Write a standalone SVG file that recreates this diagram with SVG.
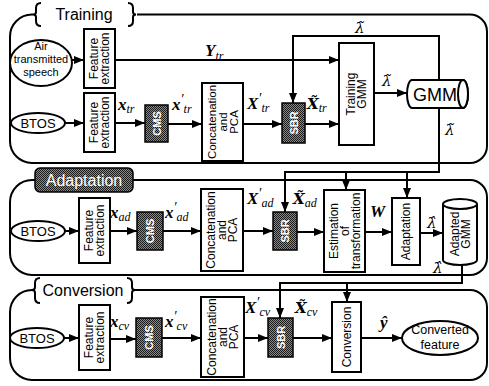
<svg xmlns="http://www.w3.org/2000/svg" width="489" height="386" viewBox="0 0 489 386">
<defs>
<pattern id="ht" width="2" height="2" patternUnits="userSpaceOnUse">
<rect width="2" height="2" fill="#8a8a8a"/>
<rect width="1" height="1" fill="#1a1a1a"/>
<rect x="1" y="1" width="1" height="1" fill="#1a1a1a"/>
</pattern>
<marker id="ah" markerUnits="userSpaceOnUse" markerWidth="10" markerHeight="8" refX="10" refY="4" orient="auto">
<path d="M0,0 L10,4 L0,8 Z" fill="#000"/>
</marker>
<style>
.box{fill:#fff;stroke:#000;stroke-width:2}
.dk{fill:url(#ht);stroke:#000;stroke-width:1.5}
.ar{fill:none;stroke:#000;stroke-width:2;marker-end:url(#ah)}
.pn{fill:none;stroke:#000;stroke-width:2}
.t{font-family:"Liberation Sans",Arial,sans-serif;font-size:12px;text-anchor:middle;fill:#000}
.w{font-family:"Liberation Sans",Arial,sans-serif;font-size:11px;text-anchor:middle;fill:#fff;font-weight:bold}
.h{font-family:"Liberation Sans",Arial,sans-serif;font-size:16px;text-anchor:middle}
.m{font-family:"Liberation Serif","Times New Roman",serif;font-weight:bold;font-style:italic;font-size:17px;fill:#000}
.d{font-family:"DejaVu Serif",serif;font-weight:bold;font-style:italic;font-size:15px;fill:#000}
.s{font-family:"Liberation Serif","Times New Roman",serif;font-weight:normal;font-size:12px}
.p{font-weight:normal;font-size:14px}
.g{font-family:"DejaVu Serif",serif;font-style:italic;font-size:15px;fill:#000}
</style>
</defs>

<g id="panel-training">
<path class="pn" d="M137,14.5 H470 A17,17 0 0 1 487,31.5 V146 A17,17 0 0 1 470,163 H32 A22,22 0 0 1 10,141 V36.5 A22,22 0 0 1 32,14.5 H33"/>
<path class="pn" d="M41,3 Q36,3 36,8 V12 Q36,14.5 33,14.5 Q36,14.5 36,17 V21 Q36,26 41,26"/>
<path class="pn" d="M128,3 Q133,3 133,8 V12 Q133,14.5 136,14.5 Q133,14.5 133,17 V21 Q133,26 128,26"/>
<text class="h" x="84" y="20">Training</text>
</g>
<g id="panel-adaptation">
<path class="pn" d="M133,180 H470 A17,17 0 0 1 487,197 V258 A17,17 0 0 1 470,275 H32 A22,22 0 0 1 10,253 V202 A22,22 0 0 1 32,180 H35"/>
<rect class="dk" x="35" y="168" width="98" height="24" rx="5"/>
<text class="h" x="84" y="186" style="fill:#fff">Adaptation</text>
</g>
<g id="panel-conversion">
<path class="pn" d="M135,290 H470 A17,17 0 0 1 487,307 V363 A17,17 0 0 1 470,380 H32 A22,22 0 0 1 10,358 V312 A22,22 0 0 1 32,290 H32"/>
<path class="pn" d="M40,278 Q35,278 35,283 V287 Q35,290 32,290 Q35,290 35,293 V298 Q35,303 40,303"/>
<path class="pn" d="M127,278 Q132,278 132,283 V287 Q132,290 135,290 Q132,290 132,293 V298 Q132,303 127,303"/>
<text class="h" x="83" y="296">Conversion</text>
</g>

<g id="connectors">
<line class="ar" x1="72" y1="60" x2="84" y2="60"/>
<line class="ar" x1="115" y1="60" x2="339" y2="60"/>
<line class="ar" x1="65" y1="123" x2="84" y2="123"/>
<line class="ar" x1="115" y1="123" x2="145" y2="123"/>
<line class="ar" x1="168" y1="124" x2="202" y2="124"/>
<line class="ar" x1="243" y1="124" x2="282" y2="124"/>
<line class="ar" x1="305" y1="124" x2="339" y2="124"/>
<line class="ar" x1="374" y1="93" x2="407" y2="93"/>
<path class="ar" d="M439,82 V36 H293 V103"/>
<path class="ar" d="M439,106 V172 H285 V212"/>
<line class="ar" x1="346" y1="172" x2="346" y2="190"/>
<line class="ar" x1="407" y1="172" x2="407" y2="198"/>
<line class="ar" x1="65" y1="231" x2="79" y2="231"/>
<line class="ar" x1="110" y1="231" x2="137" y2="231"/>
<line class="ar" x1="163" y1="231" x2="201" y2="231"/>
<line class="ar" x1="243" y1="231" x2="273" y2="231"/>
<line class="ar" x1="297" y1="232" x2="324" y2="232"/>
<line class="ar" x1="365" y1="232" x2="392" y2="232"/>
<line class="ar" x1="420" y1="233" x2="443" y2="233"/>
<path class="ar" d="M462,265 V283 H280 V318"/>
<line class="ar" x1="347" y1="283" x2="347" y2="302"/>
<line class="ar" x1="64" y1="338" x2="79" y2="338"/>
<line class="ar" x1="110" y1="339" x2="136" y2="339"/>
<line class="ar" x1="162" y1="338" x2="201" y2="338"/>
<line class="ar" x1="244" y1="338" x2="268" y2="338"/>
<line class="ar" x1="293" y1="338" x2="332" y2="338"/>
<line class="ar" x1="361" y1="338" x2="402" y2="338"/>
</g>

<g id="labels">
<text class="m" x="205" y="56">Y<tspan class="s" dy="4">tr</tspan></text>
<text class="m" x="118" y="110">x<tspan class="s" dy="3">tr</tspan></text>
<text class="m" x="172" y="110">x<tspan class="p" dy="-6">′</tspan><tspan class="s" dy="9">tr</tspan></text>
<text class="m" x="247" y="109">X<tspan class="p" dy="-6">′</tspan><tspan class="s" dy="9">tr</tspan></text>
<text class="d" x="307" y="109">X̃<tspan class="s" dy="3">tr</tspan></text>
<text class="g" x="355" y="33">λ̃</text>
<text class="g" x="382" y="86">λ̃</text>
<text class="g" x="445" y="135">λ̃</text>
<text class="m" x="110" y="218">x<tspan class="s" dy="3">ad</tspan></text>
<text class="m" x="165" y="218">x<tspan class="p" dy="-6">′</tspan><tspan class="s" dy="9">ad</tspan></text>
<text class="m" x="247" y="204">X<tspan class="p" dy="-6">′</tspan><tspan class="s" dy="9">ad</tspan></text>
<text class="d" x="293" y="204">X̃<tspan class="s" dy="3">ad</tspan></text>
<text class="m" x="370" y="217">W</text>
<text class="g" x="427" y="228">λ̂</text>
<text class="g" x="433" y="273">λ̂</text>
<text class="m" x="110" y="327">x<tspan class="s" dy="3">cv</tspan></text>
<text class="m" x="165" y="327">x<tspan class="p" dy="-6">′</tspan><tspan class="s" dy="9">cv</tspan></text>
<text class="m" x="245" y="313">X<tspan class="p" dy="-6">′</tspan><tspan class="s" dy="9">cv</tspan></text>
<text class="d" x="295" y="313">X̃<tspan class="s" dy="3">cv</tspan></text>
<text class="m" x="380" y="328">ŷ</text>
</g>

<g id="air-speech">
<ellipse class="box" cx="41" cy="63" rx="31" ry="23"/>
<text class="t" x="41" y="50" style="font-size:11px">Air</text>
<text class="t" x="41" y="63" style="font-size:11px">transmitted</text>
<text class="t" x="41" y="76" style="font-size:11px">speech</text>
</g>
<g id="fe-air">
<rect class="box" x="84" y="29" width="31" height="59"/>
<text class="t" transform="translate(99.5,58.5) rotate(-90)"><tspan x="0" y="-1.5">Feature</tspan><tspan x="0" y="9.5">extraction</tspan></text>
</g>
<g id="btos-tr">
<ellipse class="box" cx="38" cy="123" rx="27" ry="10"/>
<text class="t" x="38" y="128" style="font-size:13px">BTOS</text>
</g>
<g id="fe-tr">
<rect class="box" x="84" y="93" width="31" height="59"/>
<text class="t" transform="translate(99.5,122.5) rotate(-90)"><tspan x="0" y="-1.5">Feature</tspan><tspan x="0" y="9.5">extraction</tspan></text>
</g>
<g id="cms-tr">
<rect class="dk" x="145" y="105" width="23" height="37"/>
<text class="w" transform="translate(156.5,123.5) rotate(-90)" y="4">CMS</text>
</g>
<g id="pca-tr">
<rect class="box" x="202" y="83" width="41" height="78"/>
<text class="t" transform="translate(222.5,122) rotate(-90)" style="font-size:11.5px"><tspan x="0" y="-7">Concatenation</tspan><tspan x="0" y="4">and</tspan><tspan x="0" y="15">PCA</tspan></text>
</g>
<g id="sbr-tr">
<rect class="dk" x="282" y="103" width="23" height="40"/>
<text class="w" transform="translate(293.5,123) rotate(-90)" y="4">SBR</text>
</g>
<g id="training-gmm">
<rect class="box" x="339" y="43" width="35" height="102"/>
<text class="t" transform="translate(356.5,94) rotate(-90)"><tspan x="0" y="-1.5">Training</tspan><tspan x="0" y="9.5">GMM</tspan></text>
</g>
<g id="gmm">
<path class="box" d="M412,80 H463 A5,14 0 0 1 463,108 H412 A5,14 0 0 1 412,80 Z"/>
<ellipse class="box" cx="463" cy="94" rx="5" ry="14"/>
<text class="t" x="435" y="100.5" style="font-size:18px">GMM</text>
</g>

<g id="btos-ad">
<ellipse class="box" cx="38" cy="231" rx="27" ry="10"/>
<text class="t" x="38" y="236" style="font-size:13px">BTOS</text>
</g>
<g id="fe-ad">
<rect class="box" x="79" y="198" width="31" height="65"/>
<text class="t" transform="translate(94.5,230.5) rotate(-90)"><tspan x="0" y="-1.5">Feature</tspan><tspan x="0" y="9.5">extraction</tspan></text>
</g>
<g id="cms-ad">
<rect class="dk" x="137" y="212" width="26" height="38"/>
<text class="w" transform="translate(150,231) rotate(-90)" y="4">CMS</text>
</g>
<g id="pca-ad">
<rect class="box" x="201" y="189" width="42" height="82"/>
<text class="t" transform="translate(222,230) rotate(-90)"><tspan x="0" y="-7">Concatenation</tspan><tspan x="0" y="4">and</tspan><tspan x="0" y="15">PCA</tspan></text>
</g>
<g id="sbr-ad">
<rect class="dk" x="273" y="212" width="24" height="38"/>
<text class="w" transform="translate(285,231) rotate(-90)" y="4">SBR</text>
</g>
<g id="estimation">
<rect class="box" x="324" y="190" width="41" height="82"/>
<text class="t" transform="translate(344.5,231) rotate(-90)"><tspan x="0" y="-7">Estimation</tspan><tspan x="0" y="4">of</tspan><tspan x="0" y="15">transformation</tspan></text>
</g>
<g id="adaptation">
<rect class="box" x="392" y="198" width="28" height="67"/>
<text class="t" transform="translate(406,231.5) rotate(-90)" y="4">Adaptation</text>
</g>
<g id="adapted-gmm">
<path class="box" d="M443,204 V260 A17,5 0 0 0 477,260 V204"/>
<ellipse class="box" cx="460" cy="204" rx="17" ry="5"/>
<text class="t" transform="translate(460,234) rotate(-90)"><tspan x="0" y="-1.5">Adapted</tspan><tspan x="0" y="9.5">GMM</tspan></text>
</g>

<g id="btos-cv">
<ellipse class="box" cx="37" cy="338" rx="27" ry="10"/>
<text class="t" x="37" y="343" style="font-size:13px">BTOS</text>
</g>
<g id="fe-cv">
<rect class="box" x="79" y="305" width="31" height="65"/>
<text class="t" transform="translate(94.5,337.5) rotate(-90)"><tspan x="0" y="-1.5">Feature</tspan><tspan x="0" y="9.5">extraction</tspan></text>
</g>
<g id="cms-cv">
<rect class="dk" x="136" y="318" width="26" height="39"/>
<text class="w" transform="translate(149,337.5) rotate(-90)" y="4">CMS</text>
</g>
<g id="pca-cv">
<rect class="box" x="201" y="297" width="43" height="80"/>
<text class="t" transform="translate(222.5,337) rotate(-90)"><tspan x="0" y="-7">Concatenation</tspan><tspan x="0" y="4">and</tspan><tspan x="0" y="15">PCA</tspan></text>
</g>
<g id="sbr-cv">
<rect class="dk" x="268" y="318" width="25" height="39"/>
<text class="w" transform="translate(280.5,337.5) rotate(-90)" y="4">SBR</text>
</g>
<g id="conversion">
<rect class="box" x="332" y="302" width="29" height="70"/>
<text class="t" transform="translate(346.5,337) rotate(-90)" y="4">Conversion</text>
</g>
<g id="converted-feature">
<ellipse class="box" cx="440" cy="338" rx="38" ry="17"/>
<text class="t" x="440" y="334" style="font-size:12.5px">Converted</text>
<text class="t" x="440" y="348.5" style="font-size:12.5px">feature</text>
</g>
</svg>
